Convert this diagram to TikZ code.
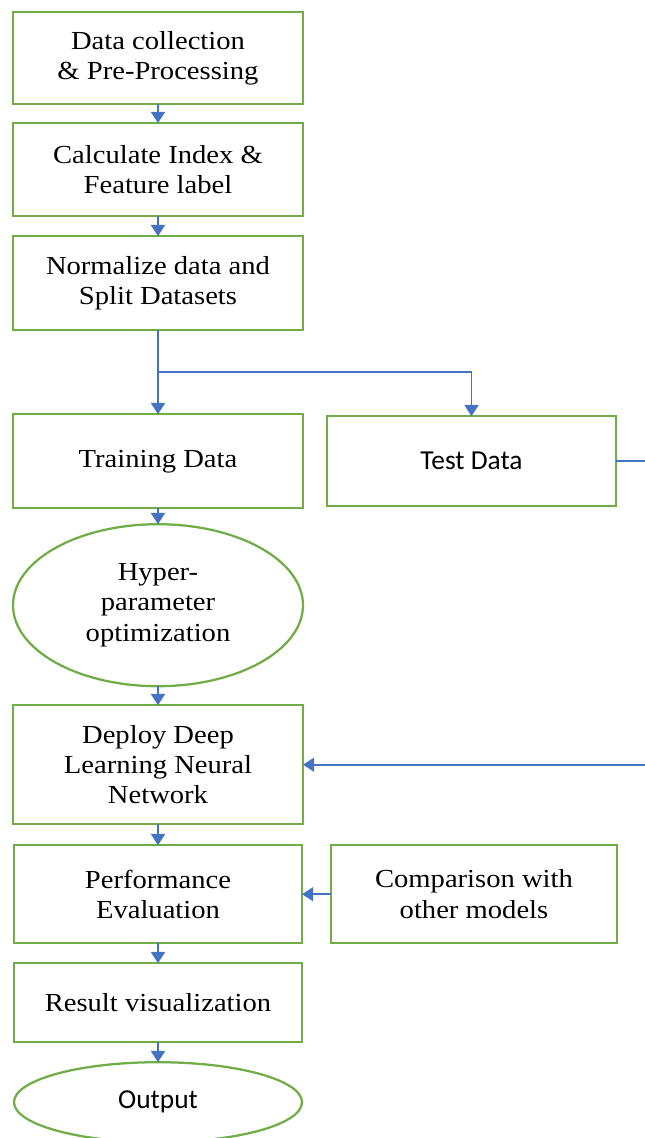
\documentclass[tikz,border=0pt]{standalone}
\usepackage{fontspec}
\setmainfont{Liberation Serif}[FakeStretch=1.1]
\newfontfamily\calibri{Carlito}
\usetikzlibrary{positioning}
\usetikzlibrary{shapes.geometric}
\usetikzlibrary{arrows.meta}
\definecolor{boxgreen}{RGB}{112,173,71}
\definecolor{flowblue}{RGB}{68,114,196}

\begin{document}
\begin{tikzpicture}[>={Triangle[width=10pt,length=8pt]}, font=\fontsize{18.5}{21.5}\selectfont]
    \tikzstyle{block}=[draw=boxgreen, line width=1.6pt, rectangle, fill=white, minimum width=7.25cm, inner sep=0pt, outer sep=0pt, align=center]
    \tikzstyle{oval}=[draw=boxgreen, line width=1.6pt, ellipse, fill=white, inner sep=0pt, outer sep=0pt, align=center]
    \tikzstyle{sans}=[font=\calibri\fontsize{19.5}{22}\selectfont]
    \tikzstyle{flow}=[->, draw=flowblue, line width=1.2pt]

    \useasboundingbox (0,0) rectangle (16.1,-28.45);

    \node[block, minimum height=2.3cm] (collect) at (3.95,-1.45) {Data collection\\ \& Pre-Processing};
    \node[block, minimum height=2.33cm, below=0.475cm of collect] (label) {Calculate Index \&\\ Feature label};
    \node[block, minimum height=2.35cm, below=0.5cm of label] (norm) {Normalize data and\\ Split Datasets};
    \coordinate[below=1.05cm of norm] (split);
    \node[block, minimum height=2.35cm, below=2.1cm of norm] (train) {Training Data};
    \node[block, sans, minimum width=7.225cm, minimum height=2.25cm, right=0.6cm of train] (test) {Test Data};
    \node[oval, minimum width=7.25cm, minimum height=4.05cm, below=0.4cm of train] (hyper) {Hyper-\\ parameter\\ optimization};
    \node[block, minimum height=2.975cm, below=0.475cm of hyper] (deploy) {Deploy Deep\\ Learning Neural\\ Network};
    \node[block, minimum width=7.2cm, minimum height=2.45cm, below=0.525cm of deploy] (perf) {Performance\\ Evaluation};
    \node[block, minimum width=7.15cm, minimum height=2.45cm, right=0.725cm of perf] (compare) {Comparison with\\ other models};
    \node[block, minimum width=7.2cm, minimum height=1.975cm, below=0.5cm of perf] (result) {Result visualization};
    \node[oval, sans, minimum width=7.2cm, minimum height=2cm, below=0.5cm of result] (output) {Output};
    \coordinate (turn) at (16.5,0);

    \draw[flow] (collect) -- (label);
    \draw[flow] (label) -- (norm);
    \draw[flow] (norm.south) -- (train.north);
    \draw[flow] (split) -| (test.north);
    \draw[flow] (test.east) -- (test.east -| turn) -- (deploy.east -| turn) -- (deploy.east);
    \draw[flow] (train) -- (hyper);
    \draw[flow] (hyper) -- (deploy);
    \draw[flow] (deploy) -- (perf);
    \draw[flow] (compare) -- (perf);
    \draw[flow] (perf) -- (result);
    \draw[flow] (result) -- (output);
\end{tikzpicture}
\end{document}
